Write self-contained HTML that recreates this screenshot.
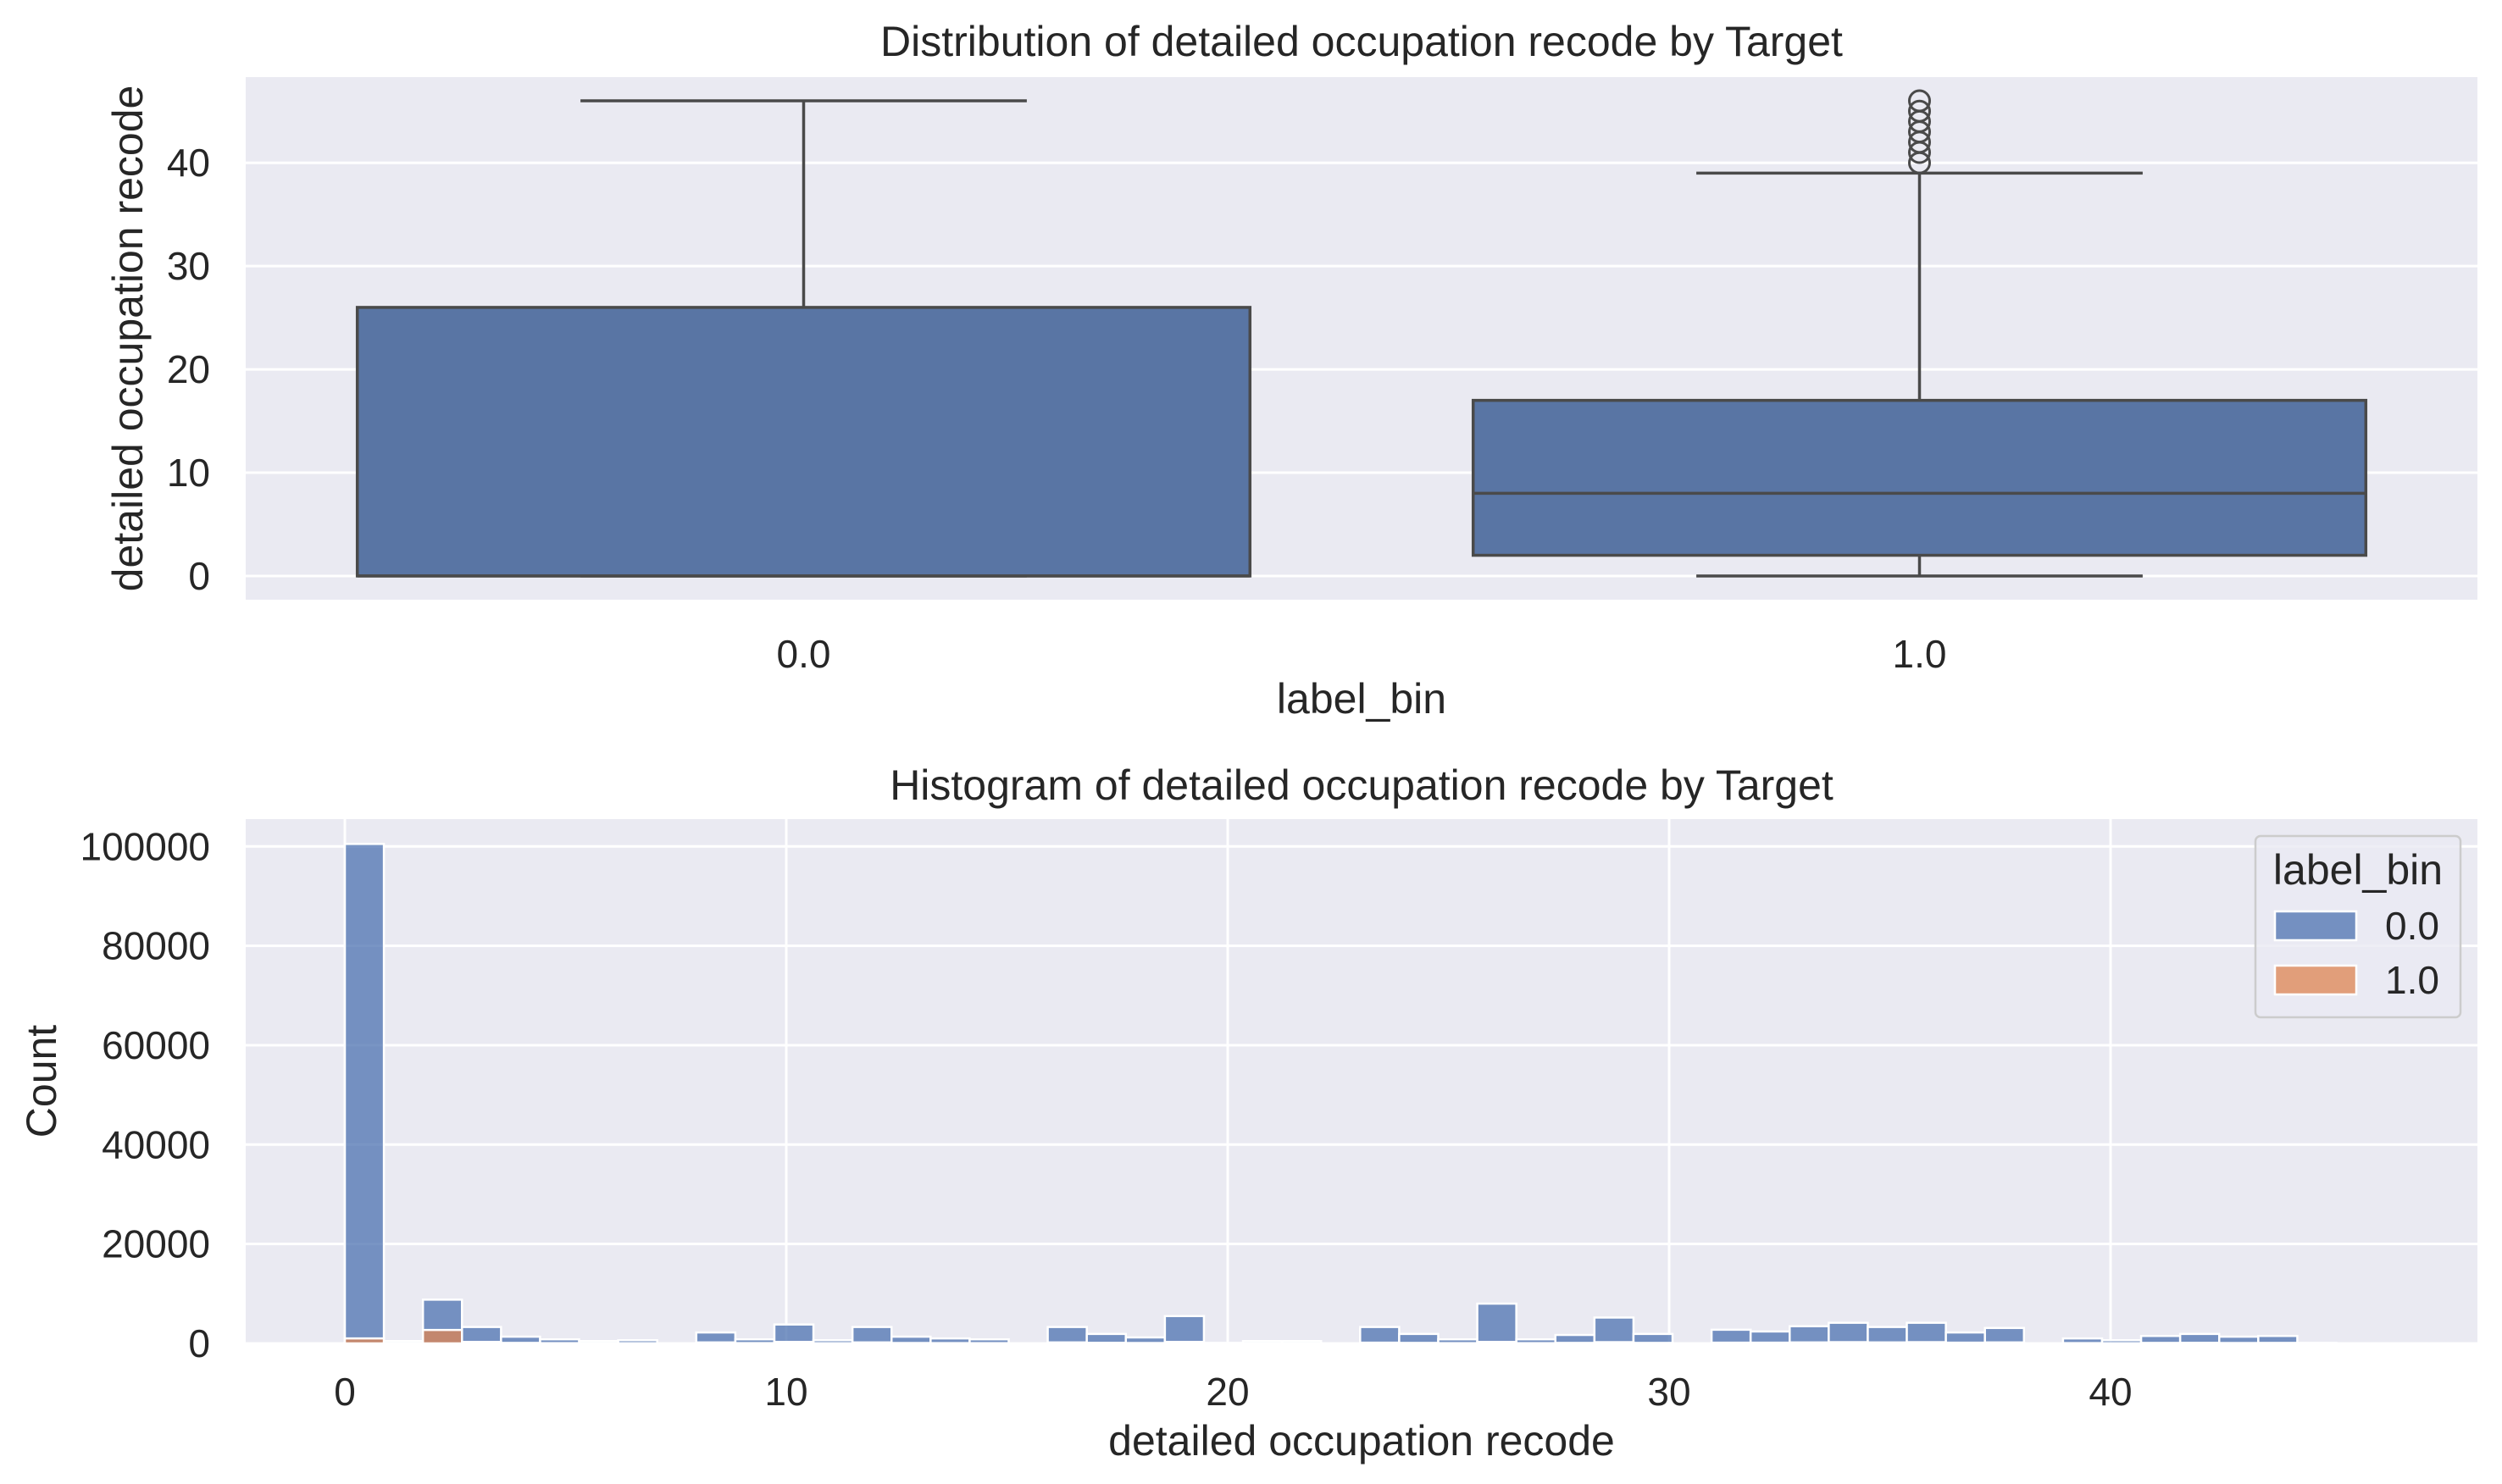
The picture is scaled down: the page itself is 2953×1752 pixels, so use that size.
<!DOCTYPE html>
<html><head><meta charset="utf-8"><style>
body{margin:0;background:#fff}
svg{display:block;font-family:"Liberation Sans",Arial,sans-serif;fill:#262626}
</style></head><body>
<svg id="c" width="2953" height="1752" viewBox="0 0 2953 1752" xmlns="http://www.w3.org/2000/svg">
<g id="topPanel"></g>
<g id="botPanel"></g>
</svg>
<script>
// ---- box plot data ----
const boxCats = ["0.0", "1.0"];
const boxQ1 = [0, 2];
const boxMed = [0, 8];
const boxQ3 = [26, 17];
const boxLo = [0, 0];
const boxHi = [46, 39];
const boxOutliers = [[], [40, 41, 42, 43, 44, 45, 46]];
const boxYTicks = [0, 10, 20, 30, 40];
// ---- histogram data ----
const binStart = 0, binEnd = 46;
const counts0 = [100500,470,8800,3300,1350,820,470,640,0,2200,820,3800,640,3300,1350,1000,820,0,3300,1900,1200,5500,100,470,470,0,3300,1900,820,8000,820,1700,5200,1900,0,2750,2400,3450,4150,3300,4150,2200,3100,0,1000,640,1500,1900,1350,1500,100,0];
const counts1 = [1000,30,2700,300,100,50,30,40,0,200,60,300,40,200,80,60,50,0,200,120,80,300,10,30,30,0,150,100,50,300,50,100,250,100,0,150,150,200,250,200,250,150,200,0,60,40,100,120,80,100,5,0];
const histXTicks = [0, 10, 20, 30, 40];
const histYTicks = [0, 20000, 40000, 60000, 80000, 100000];
const legendLabels = ["0.0", "1.0"];

const NS = "http://www.w3.org/2000/svg";
const TICK = 46, LAB = 50;
function mk(parent, tag, attrs, text) {
  const e = document.createElementNS(NS, tag);
  for (const k in attrs) e.setAttribute(k, attrs[k]);
  if (text !== undefined) e.textContent = text;
  parent.appendChild(e);
  return e;
}
const topG = document.getElementById("topPanel");
const botG = document.getElementById("botPanel");

// ===== TOP PANEL =====
const TX0 = 290, TX1 = 2924, TY0 = 91, TY1 = 708;
const tyMin = -2.3, tyMax = 48.3;
const ty = v => TY1 - (v - tyMin) / (tyMax - tyMin) * (TY1 - TY0);
const tx = i => TX0 + (i + 0.5) / 2 * (TX1 - TX0);
const unitW = (TX1 - TX0) / 2;
let bg = mk(topG, "rect", {x: TX0, y: TY0, width: TX1 - TX0, height: TY1 - TY0, fill: "#eaeaf2"});


boxYTicks.forEach(v => {
  const l = mk(topG, "line", {x1: TX0, x2: TX1, y1: ty(v), y2: ty(v), stroke: "#fff", "stroke-width": 3});
  
  
  const t = mk(topG, "text", {x: 248, y: ty(v) + 16, "text-anchor": "end", "font-size": TICK}, String(v));
  
  
});
boxCats.forEach((c, i) => {
  const cx = tx(i), hw = unitW * 0.4, cw = unitW * 0.2;
  const g = mk(topG, "g", {});
  
  
  const ln = {stroke: "#4a4a4a", "stroke-width": 3.5, fill: "none"};
  mk(g, "line", Object.assign({x1: cx, x2: cx, y1: ty(boxQ3[i]), y2: ty(boxHi[i])}, ln));
  mk(g, "line", Object.assign({x1: cx, x2: cx, y1: ty(boxQ1[i]), y2: ty(boxLo[i])}, ln));
  mk(g, "line", Object.assign({x1: cx - cw, x2: cx + cw, y1: ty(boxHi[i]), y2: ty(boxHi[i])}, ln));
  mk(g, "line", Object.assign({x1: cx - cw, x2: cx + cw, y1: ty(boxLo[i]), y2: ty(boxLo[i])}, ln));
  mk(g, "rect", {x: cx - hw, y: ty(boxQ3[i]), width: 2 * hw, height: ty(boxQ1[i]) - ty(boxQ3[i]), fill: "#5975a4", stroke: "#4a4a4a", "stroke-width": 3.5});
  mk(g, "line", Object.assign({x1: cx - hw, x2: cx + hw, y1: ty(boxMed[i]), y2: ty(boxMed[i])}, ln));
  boxOutliers[i].forEach(o => {
    const p = mk(g, "circle", {cx: cx, cy: ty(o), r: 12, fill: "none", stroke: "#4a4a4a", "stroke-width": 3});
    
    
  });
  const t = mk(topG, "text", {x: cx, y: 788, "text-anchor": "middle", "font-size": TICK}, c);
  
  
});
let t1 = mk(topG, "text", {x: (TX0 + TX1) / 2, y: 66, "text-anchor": "middle", "font-size": LAB}, "Distribution of detailed occupation recode by Target");


let xl1 = mk(topG, "text", {x: (TX0 + TX1) / 2, y: 842, "text-anchor": "middle", "font-size": LAB}, "label_bin");


let yl1 = mk(topG, "text", {x: 0, y: 0, "text-anchor": "middle", "font-size": LAB, transform: "translate(168," + ((TY0 + TY1) / 2) + ") rotate(-90)"}, "detailed occupation recode");



// ===== BOTTOM PANEL =====
const BX0 = 290, BX1 = 2924, BY0 = 967, BY1 = 1586;
const x0px = 407, pxPerUnit = 52.1;
const bx = v => x0px + v * pxPerUnit;
const byMax = 105500;
const by = v => BY1 - v / byMax * (BY1 - BY0);
let bg2 = mk(botG, "rect", {x: BX0, y: BY0, width: BX1 - BX0, height: BY1 - BY0, fill: "#eaeaf2"});


histYTicks.forEach(v => {
  const l = mk(botG, "line", {x1: BX0, x2: BX1, y1: by(v), y2: by(v), stroke: "#fff", "stroke-width": 3});
  
  
  const t = mk(botG, "text", {x: 248, y: by(v) + 16, "text-anchor": "end", "font-size": TICK}, String(v));
  
  
});
histXTicks.forEach(v => {
  const l = mk(botG, "line", {x1: bx(v), x2: bx(v), y1: BY0, y2: BY1, stroke: "#fff", "stroke-width": 3});
  
  
  const t = mk(botG, "text", {x: bx(v), y: 1659, "text-anchor": "middle", "font-size": TICK}, String(v));
  
  
});
const nb = counts0.length, bw = (binEnd - binStart) / nb;
[[counts0, "#4c72b0", "bar-class-0"], [counts1, "#dd8452", "bar-class-1"]].forEach(([arr, col, nm]) => {
  arr.forEach((v, i) => {
    if (v <= 0) return;
    const xa = bx(binStart + i * bw), xb = bx(binStart + (i + 1) * bw);
    const r = mk(botG, "rect", {x: xa, y: by(v), width: xb - xa, height: by(0) - by(v), fill: col, "fill-opacity": 0.75, stroke: "#fff", "stroke-width": 2.5});
    
    
  });
});
let t2 = mk(botG, "text", {x: (BX0 + BX1) / 2, y: 944, "text-anchor": "middle", "font-size": LAB}, "Histogram of detailed occupation recode by Target");


let xl2 = mk(botG, "text", {x: (BX0 + BX1) / 2, y: 1718, "text-anchor": "middle", "font-size": LAB}, "detailed occupation recode");


let yl2 = mk(botG, "text", {x: 0, y: 0, "text-anchor": "middle", "font-size": LAB, transform: "translate(66," + ((BY0 + BY1) / 2) + ") rotate(-90)"}, "Count");



// legend
const lg = mk(botG, "g", {});


mk(lg, "rect", {x: 2662, y: 987, width: 242, height: 214, rx: 6, fill: "#eaeaf2", "fill-opacity": 0.8, stroke: "#cccccc", "stroke-width": 2.5});
const lt = mk(lg, "text", {x: 2783, y: 1044, "text-anchor": "middle", "font-size": LAB}, "label_bin");


const lcols = ["#4c72b0", "#dd8452"];
legendLabels.forEach((lab, i) => {
  const yy = 1076 + i * 64;
  const e = mk(lg, "g", {});
  
  
  mk(e, "rect", {x: 2685, y: yy, width: 96, height: 34, fill: lcols[i], "fill-opacity": 0.75, stroke: "#fff", "stroke-width": 2.5});
  mk(e, "text", {x: 2879, y: yy + 33, "text-anchor": "end", "font-size": TICK}, lab);
});
</script>
</body></html>
